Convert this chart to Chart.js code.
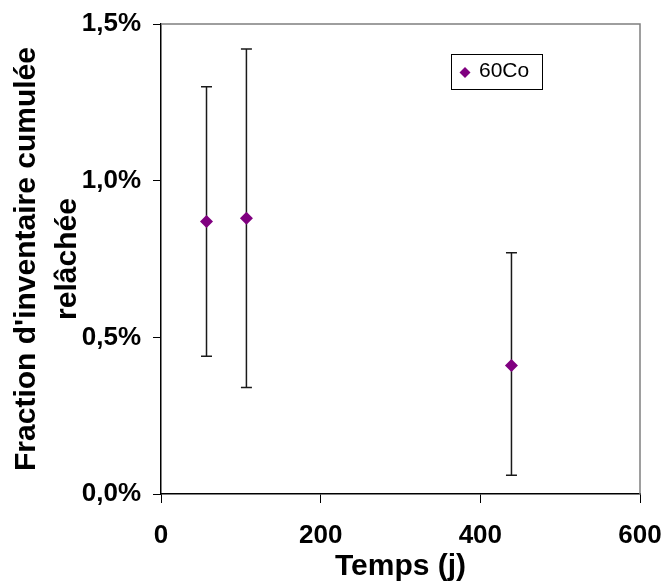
<!DOCTYPE html>
<html>
<head>
<meta charset="utf-8">
<script src="https://cdn.jsdelivr.net/npm/chart.js@4.4.1/dist/chart.umd.min.js"></script>
<style>
  html, body { margin: 0; padding: 0; background: #fff; }
  #wrap { width: 665px; height: 583px; }
</style>
</head>
<body>
<div id="wrap"><canvas id="c" width="665" height="583"></canvas></div>
<script>
// Data (percent)
const seriesLabel = '60Co';
const times = [57, 107, 439];          // Temps (j)
const values = [0.87, 0.88, 0.41];     // fraction cumulée relâchée (%)
const errLow = [0.44, 0.34, 0.06];     // lower end of error bar (%)
const errHigh = [1.30, 1.42, 0.77];    // upper end of error bar (%)
const xTicks = [0, 200, 400, 600];
const yTicks = [0, 0.5, 1.0, 1.5];
const xTitle = 'Temps (j)';
const yTitle = ["Fraction d'inventaire cumulée", 'relâchée'];

const FONT = "'Liberation Sans', Arial, sans-serif";
const markerColor = '#800080';

const errorBars = {
  id: 'errorBars',
  beforeDatasetsDraw(chart) {
    const {ctx, scales: {x, y}} = chart;
    ctx.save();
    ctx.strokeStyle = '#1a1a1a';
    ctx.lineWidth = 1.5;
    times.forEach((t, i) => {
      const px = x.getPixelForValue(t);
      const pLo = y.getPixelForValue(errLow[i]);
      const pHi = y.getPixelForValue(errHigh[i]);
      ctx.beginPath();
      ctx.moveTo(px, pLo); ctx.lineTo(px, pHi);
      ctx.moveTo(px - 5.5, pLo); ctx.lineTo(px + 5.5, pLo);
      ctx.moveTo(px - 5.5, pHi); ctx.lineTo(px + 5.5, pHi);
      ctx.stroke();
    });
    ctx.restore();
  }
};

const frame = {
  id: 'frame',
  afterDraw(chart) {
    const {ctx, chartArea: a} = chart;
    ctx.save();
    ctx.strokeStyle = '#7f7f7f';
    ctx.lineWidth = 1.5;
    ctx.beginPath();
    ctx.moveTo(a.left, a.top); ctx.lineTo(a.right, a.top); ctx.lineTo(a.right, a.bottom);
    ctx.stroke();
    ctx.restore();
  }
};

const boxLegend = {
  id: 'boxLegend',
  afterDraw(chart) {
    const {ctx, chartArea: a} = chart;
    const ds = chart.data.datasets[0];
    const left = a.left + 290, top = a.top + 30, w = 91, h = 35;
    ctx.save();
    ctx.fillStyle = '#fff';
    ctx.fillRect(left, top, w, h);
    ctx.strokeStyle = '#000';
    ctx.lineWidth = 1;
    ctx.strokeRect(left + 0.5, top + 0.5, w, h);
    const cy = top + h / 2 + 1;
    ctx.fillStyle = markerColor;
    ctx.beginPath();
    ctx.moveTo(left + 14, cy - 5.5); ctx.lineTo(left + 19.5, cy);
    ctx.lineTo(left + 14, cy + 5.5); ctx.lineTo(left + 8.5, cy);
    ctx.closePath(); ctx.fill();
    ctx.fillStyle = '#000';
    ctx.font = '21px ' + FONT;
    ctx.textBaseline = 'middle';
    ctx.fillText(ds.label, left + 28, cy - 1);
    ctx.restore();
  }
};

new Chart(document.getElementById('c'), {
  type: 'scatter',
  data: {
    datasets: [{
      label: seriesLabel,
      data: times.map((t, i) => ({x: t, y: values[i]})),
      pointStyle: 'rectRot',
      pointRadius: 6.5,
      pointBackgroundColor: markerColor,
      pointBorderColor: markerColor,
      pointBorderWidth: 0,
      showLine: false
    }]
  },
  options: {
    responsive: false,
    animation: false,
    events: [],
    layout: { padding: { top: 24, right: 25, bottom: 0, left: 0 } },
    plugins: { legend: { display: false }, tooltip: { enabled: false } },
    scales: {
      x: {
        type: 'linear', min: 0, max: 600,
        afterBuildTicks: s => { s.ticks = xTicks.map(v => ({value: v})); },
        afterFit: s => { s.height = 89; s.paddingLeft = 0; s.paddingRight = 0; },
        grid: { display: true, drawOnChartArea: false, tickLength: 9, color: '#000', lineWidth: 1 },
        border: { display: true, color: '#000', width: 1.5 },
        ticks: { color: '#000', font: { family: FONT, size: 26, weight: 'bold' }, padding: 17, maxRotation: 0 },
        title: { display: true, text: xTitle, color: '#000', font: { family: FONT, size: 30, weight: 'bold', lineHeight: 1 }, padding: { top: 0, bottom: 1 } }
      },
      y: {
        type: 'linear', min: 0, max: 1.5,
        afterBuildTicks: s => { s.ticks = yTicks.map(v => ({value: v})); },
        afterFit: s => { s.width = 161; s.paddingTop = 0; s.paddingBottom = 0; },
        grid: { display: true, drawOnChartArea: false, tickLength: 8, color: '#000', lineWidth: 1 },
        border: { display: true, color: '#000', width: 1.5 },
        ticks: { color: '#000', font: { family: FONT, size: 26, weight: 'bold' }, padding: 12,
          callback: v => v.toFixed(1).replace('.', ',') + '%' },
        title: { display: true, text: yTitle, color: '#000', font: { family: FONT, size: 30, weight: 'bold', lineHeight: 1.37 }, padding: { top: 6, bottom: 0 } }
      }
    }
  },
  plugins: [errorBars, frame, boxLegend]
});
</script>
</body>
</html>
